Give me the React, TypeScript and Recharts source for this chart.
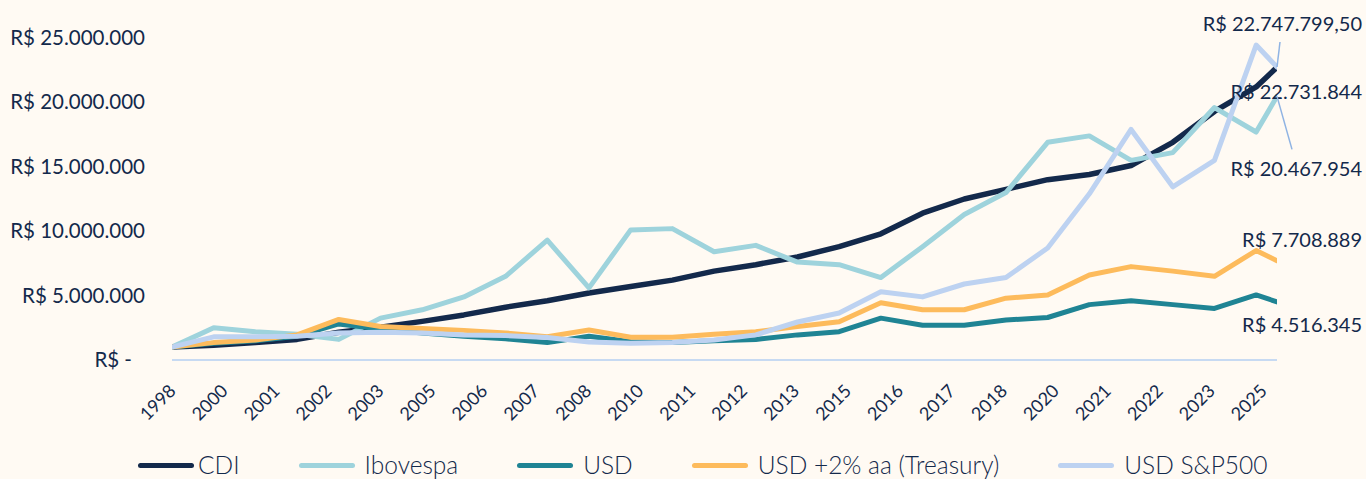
import React from 'react';
import { LineChart, Line, XAxis, YAxis, Legend, LabelList } from 'recharts';

// x position of each observation (years since the first point; the last one is a half-year)
const periods = [0, 1, 2, 3, 4, 5, 6, 7, 8, 9, 10, 11, 12, 13, 14, 15, 16, 17, 18, 19, 20, 21, 22, 23, 24, 25, 26, 26.5];

const tickLabels = ['1998', '2000', '2001', '2002', '2003', '2005', '2006', '2007', '2008', '2010', '2011',
  '2012', '2013', '2015', '2016', '2017', '2018', '2020', '2021', '2022', '2023', '2025'];

// values in millions of R$
const cdi = [1.0, 1.15, 1.35, 1.6, 2.15, 2.55, 3.0, 3.5, 4.1, 4.6, 5.2, 5.7, 6.2, 6.9, 7.4, 8.0, 8.8, 9.8,
  11.4, 12.5, 13.25, 14.0, 14.4, 15.1, 16.9, 19.3, 21.2, 22.731844];
const ibovespa = [1.0, 2.5, 2.2, 2.0, 1.6, 3.25, 3.9, 4.9, 6.5, 9.3, 5.6, 10.1, 10.2, 8.4, 8.9, 7.6, 7.4, 6.4,
  8.8, 11.3, 13.0, 16.9, 17.4, 15.5, 16.1, 19.6, 17.7, 20.467954];
const usd = [1.0, 1.3, 1.5, 1.85, 2.8, 2.4, 2.1, 1.85, 1.65, 1.35, 1.85, 1.42, 1.35, 1.5, 1.6, 1.95, 2.2, 3.25,
  2.7, 2.7, 3.1, 3.3, 4.3, 4.6, 4.3, 4.0, 5.05, 4.516345];
const treasury = [1.0, 1.35, 1.55, 1.95, 3.15, 2.6, 2.45, 2.3, 2.1, 1.8, 2.33, 1.76, 1.76, 2.0, 2.2, 2.6, 2.97, 4.45,
  3.9, 3.9, 4.8, 5.05, 6.6, 7.25, 6.9, 6.5, 8.5, 7.708889];
const sp500 = [1.0, 1.8, 1.8, 1.85, 2.1, 2.15, 2.1, 1.95, 1.9, 1.75, 1.4, 1.3, 1.35, 1.55, 1.95, 2.95, 3.65, 5.3,
  4.9, 5.9, 6.4, 8.7, 12.9, 17.9, 13.45, 15.5, 24.45, 22.7477995];

const yTicks = [0, 5000000, 10000000, 15000000, 20000000, 25000000];

const TEXT = '#13294b';
const FONT = 'Lato, "Noto Sans", sans-serif';

type Cfg = { key: string; name: string; color: string; values: number[]; width: number; dy: number; leader?: [number, number] };

const series: Cfg[] = [
  { key: 'cdi', name: 'CDI', color: '#13294b', values: cdi, width: 5.5, dy: 25 },
  { key: 'ibov', name: 'Ibovespa', color: '#9ed3dc', values: ibovespa, width: 5, dy: 73, leader: [15, 53] },
  { key: 'usd', name: 'USD', color: '#1f8494', values: usd, width: 5, dy: 23 },
  { key: 'tre', name: 'USD +2% aa (Treasury)', color: '#fdbb5c', values: treasury, width: 5, dy: -21 },
  { key: 'sp', name: 'USD S&P500', color: '#bdd2f1', values: sp500, width: 5, dy: -43, leader: [3, -25] },
];

const rows = periods.map((t, i) => {
  const r: Record<string, number> = { t };
  series.forEach((s) => { r[s.key] = Math.round(s.values[i] * 1e6 * 100) / 100; });
  return r;
});

const tickPositions = tickLabels.map((_, i) => i * 1.246);

function groupThousands(n: number): string {
  const s = String(Math.floor(n));
  return s.replace(/\B(?=(\d{3})+(?!\d))/g, '.');
}
function fmtMoney(v: number): string {
  const cents = Math.round(v * 100);
  const whole = Math.floor(cents / 100);
  const frac = cents % 100;
  return 'R$ ' + groupThousands(whole) + (frac ? ',' + String(frac).padStart(2, '0') : '');
}

const YTick = (props: any) => {
  const { x, y, payload } = props;
  const zero = payload.value === 0;
  return (
    <text x={x - (zero ? 40 : 27)} y={y} dy={7} textAnchor="end" fill={TEXT} fontSize={20.5} fontFamily={FONT}>
      {zero ? 'R$ -' : 'R$ ' + groupThousands(payload.value)}
    </text>
  );
};

const XTick = (props: any) => {
  const { x, y, index } = props;
  const ax = x + 5;
  const ay = y + 32;
  return (
    <text x={ax} y={ay} textAnchor="end" transform={`rotate(-45, ${ax}, ${ay})`} fill={TEXT} fontSize={18} fontFamily={FONT}>
      {tickLabels[index]}
    </text>
  );
};

const lastIndex = periods.length - 1;
const makeLabel = (cfg: Cfg) => (props: any) => {
  const { x, y, index, value } = props;
  if (index !== lastIndex) return null;
  return (
    <g>
      {cfg.leader && (
        <line x1={x} y1={y} x2={x + cfg.leader[0]} y2={y + cfg.leader[1]} stroke="#8fb3e3" strokeWidth={1.5} />
      )}
      <text x={x + 85} y={y + cfg.dy} dy={7} textAnchor="end" fill={TEXT} fontSize={20} fontFamily={FONT}>
        {fmtMoney(Number(value))}
      </text>
    </g>
  );
};

const LegendContent = () => (
  <div style={{ display: 'flex', alignItems: 'center', height: 22, lineHeight: '22px', paddingLeft: 138, fontFamily: FONT, fontSize: 24.5, color: TEXT, fontWeight: 300 }}>
    {series.map((s, i) => (
      <div key={s.key} style={{ display: 'flex', alignItems: 'center', marginRight: i < series.length - 1 ? 59 : 0 }}>
        <div style={{ width: 56, height: 5, borderRadius: 3, background: s.color, marginRight: i === 0 ? 4 : 10 }} />
        <span style={{ whiteSpace: 'nowrap' }}>{s.name}</span>
      </div>
    ))}
  </div>
);

export default function App() {
  return (
    <div style={{ position: 'fixed', left: 0, top: 0, width: 1366, height: 479, background: '#fffaf3', overflow: 'hidden' }}>
      <LineChart width={1366} height={479} data={rows} margin={{ top: 38, right: 89, bottom: 0, left: 0 }}>
        <XAxis
          type="number"
          dataKey="t"
          domain={[0, 26.5]}
          ticks={tickPositions}
          interval={0}
          height={119}
          tickSize={0}
          tickMargin={0}
          tickLine={false}
          axisLine={{ stroke: '#c7daf2', strokeWidth: 2 }}
          tick={<XTick />}
          allowDataOverflow
        />
        <YAxis
          width={172}
          domain={[0, 25000000]}
          ticks={yTicks}
          interval={0}
          tickSize={0}
          tickMargin={0}
          axisLine={false}
          tickLine={false}
          tick={<YTick />}
        />
        <Legend
          layout="horizontal"
          verticalAlign="middle"
          align="center"
          content={<LegendContent />}
          wrapperStyle={{ position: 'absolute', left: 0, top: 454, width: 1366, height: 22 }}
        />
        {series.map((s) => (
          <Line
            key={s.key}
            type="linear"
            dataKey={s.key}
            name={s.name}
            stroke={s.color}
            strokeWidth={s.width}
            dot={false}
            strokeLinejoin="round"
            strokeLinecap="round"
            isAnimationActive={false}
          >
            <LabelList dataKey={s.key} content={makeLabel(s)} />
          </Line>
        ))}
      </LineChart>
    </div>
  );
}
